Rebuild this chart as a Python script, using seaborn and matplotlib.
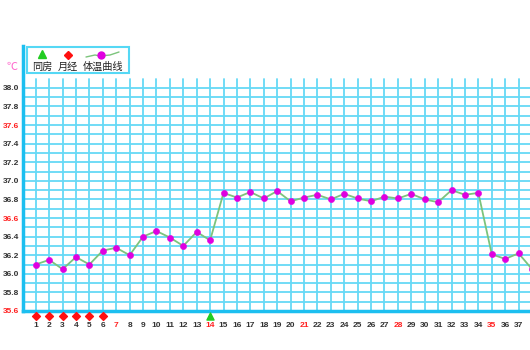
import numpy as np
import pandas as pd
import matplotlib
matplotlib.use("Agg")
import matplotlib.pyplot as plt
from matplotlib.patches import Rectangle
import seaborn as sns

days = list(range(1, 39))
temps = [36.10, 36.15, 36.05, 36.18, 36.10, 36.25, 36.28, 36.20, 36.40, 36.46,
         36.39, 36.30, 36.45, 36.36, 36.87, 36.82, 36.88, 36.81, 36.89, 36.78,
         36.82, 36.85, 36.80, 36.86, 36.81, 36.78, 36.83, 36.81, 36.86, 36.80,
         36.77, 36.90, 36.85, 36.87, 36.21, 36.16, 36.22, 36.05]
period_days = [1, 2, 3, 4, 5, 6]
intercourse_days = [14]
x_ticks = list(range(1, 38))
red_x_ticks = [7, 14, 21, 28, 35]
y_ticks = [35.6, 35.8, 36.0, 36.2, 36.4, 36.6, 36.8, 37.0, 37.2, 37.4, 37.6, 37.8, 38.0]
red_y_ticks = [35.6, 36.6, 37.6]
legend_labels = ["同房", "月经", "体温曲线"]
unit_label = "℃"

GRID = "#66d9f6"
SPINE = "#1cbff0"
LINE = "#7cc47c"
MARK = "#e000e0"

sns.set_style("white")
plt.rcParams['font.family'] = ['Liberation Sans', 'Noto Sans CJK SC', 'DejaVu Sans']

fig = plt.figure(figsize=(5.3, 3.5), dpi=100)
ax = fig.add_axes([23/530, 39/350, 1 - 23/530, 265/350])

xmin, xmax = 0.05, 37.85
ymin, ymax = 35.6, 38.45
ax.set_xlim(xmin, xmax)
ax.set_ylim(ymin, ymax)

# grid
for d in days:
    ax.plot([d, d], [35.6, 38.1], color=GRID, lw=1.3, zorder=1)
for v in np.arange(35.7, 38.01, 0.1):
    ax.axhline(v, color=GRID, lw=1.3, zorder=1)

df = pd.DataFrame({"day": days, "temp": temps})
sns.lineplot(data=df, x="day", y="temp", color=LINE, lw=1.3, ax=ax, zorder=3)
sns.scatterplot(data=df, x="day", y="temp", color=MARK, s=20, edgecolor=MARK, ax=ax, zorder=4)

# event markers below axis
ax.scatter(period_days, [35.545] * len(period_days), marker="D", s=16, color="#ff1010",
           clip_on=False, zorder=5)
ax.scatter(intercourse_days, [35.545] * len(intercourse_days), marker="^", s=26, color="#22cc22",
           clip_on=False, zorder=5)

for s in ["top", "right"]:
    ax.spines[s].set_visible(False)
for s in ["left", "bottom"]:
    ax.spines[s].set_color(SPINE)
    ax.spines[s].set_linewidth(2.5)

ax.set_xticks(x_ticks)
ax.set_xticklabels([str(t) for t in x_ticks])
ax.set_yticks(y_ticks)
ax.set_yticklabels([f"{t:.1f}" for t in y_ticks])
ax.tick_params(axis="x", length=0, pad=8, labelsize=6)
ax.tick_params(axis="y", length=0, pad=3, labelsize=6)
for lab, t in zip(ax.get_xticklabels(), x_ticks):
    lab.set_fontweight("bold")
    lab.set_color("#ff2020" if t in red_x_ticks else "#333333")
for lab, t in zip(ax.get_yticklabels(), y_ticks):
    lab.set_fontweight("bold")
    lab.set_color("#ff2020" if any(abs(t - r) < 1e-6 for r in red_y_ticks) else "#333333")
ax.set_xlabel("")
ax.set_ylabel("")

# unit label
fig.text(12/530, 1 - 67/350, unit_label, color="#ff66cc", fontsize=8, ha="center", va="center",
         family=['Noto Sans CJK SC', 'DejaVu Sans'])

# legend box (figure pixel coords)
def fx(px):
    return px / 530
def fy(py):
    return 1 - py / 350

fig.patches.append(Rectangle((fx(27), fy(73)), fx(129) - fx(27), fy(47) - fy(73),
                             transform=fig.transFigure, facecolor="white",
                             edgecolor="#55d8f5", lw=1.5, zorder=10))
fig.lines.append(plt.Line2D([fx(42)], [fy(54)], marker="^", markersize=6, color="#22cc22",
                            lw=0, transform=fig.transFigure, zorder=11))
fig.lines.append(plt.Line2D([fx(68)], [fy(55)], marker="D", markersize=4.5, color="#ff1010",
                            lw=0, transform=fig.transFigure, zorder=11))
fig.lines.append(plt.Line2D([fx(86), fx(95), fx(100), fx(110), fx(119)],
                            [fy(57), fy(55), fy(56), fy(55), fy(52)], color=LINE, lw=1,
                            transform=fig.transFigure, zorder=11))
fig.lines.append(plt.Line2D([fx(101)], [fy(55)], marker="o", markersize=5, color=MARK,
                            lw=0, transform=fig.transFigure, zorder=12))
for txt, px in zip(legend_labels, [42, 68, 103]):
    fig.text(fx(px), fy(67), txt, fontsize=7.3, ha="center", va="center", color="#222222",
             family=['Noto Sans CJK SC', 'DejaVu Sans'], zorder=12)

fig.savefig("out.png", dpi=100, facecolor="white")
